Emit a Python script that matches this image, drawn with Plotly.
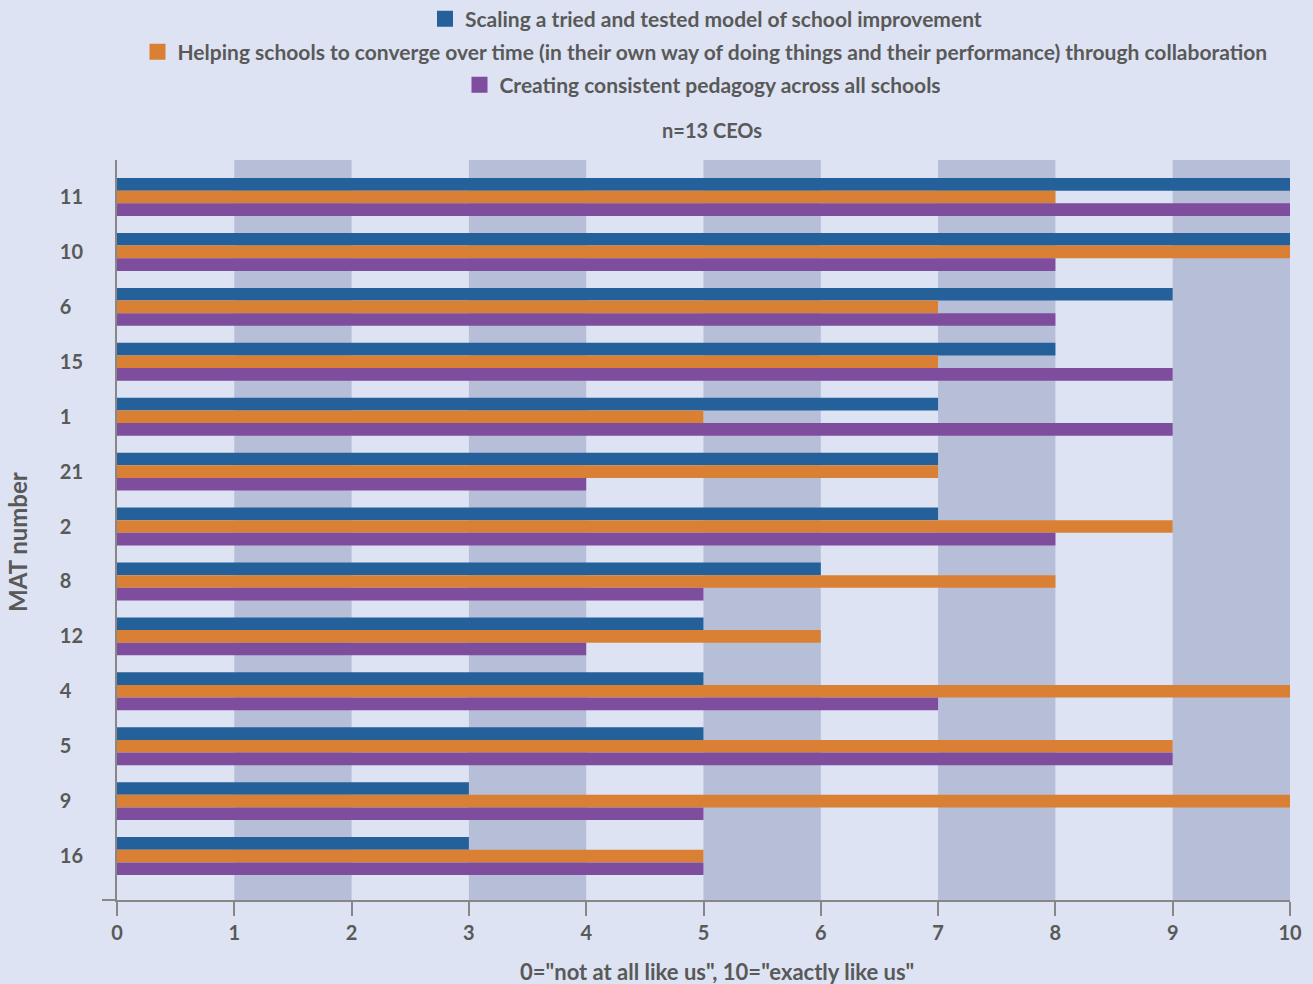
import plotly.graph_objects as go

mats = ["11", "10", "6", "15", "1", "21", "2", "8", "12", "4", "5", "9", "16"]
scaling = [10, 10, 9, 8, 7, 7, 7, 6, 5, 5, 5, 3, 3]
converge = [8, 10, 7, 7, 5, 7, 9, 8, 6, 10, 9, 10, 5]
pedagogy = [10, 8, 8, 9, 9, 4, 8, 5, 4, 7, 9, 5, 5]

series_names = [
    "Scaling a tried and tested model of school improvement",
    "Helping schools to converge over time (in their own way of doing things and their performance) through collaboration",
    "Creating consistent pedagogy across all schools",
]
colors = ["#24609A", "#DA8034", "#7F4D9D"]
x_ticks = list(range(0, 11))
bands = [(1, 2), (3, 4), (5, 6), (7, 8), (9, 10)]

FONT = "Lato"
TXT = "#595959"

fig = go.Figure()
for name, vals, col in zip(series_names, [scaling, converge, pedagogy], colors):
    fig.add_trace(go.Bar(
        y=mats, x=vals, name=name, orientation="h",
        marker=dict(color=col, line=dict(width=0)),
        showlegend=False,
    ))
# legend entries (larger square swatches)
for name, col, lg in zip(series_names, colors, ["legend", "legend2", "legend3"]):
    fig.add_trace(go.Scatter(
        x=[None], y=[None], mode="markers", name=name,
        marker=dict(symbol="square", size=16, color=col, line=dict(width=0)),
        legend=lg, showlegend=True,
    ))

shapes = []
for a, b in bands:
    shapes.append(dict(type="rect", xref="x", yref="paper", x0=a, x1=b, y0=0, y1=1,
                       fillcolor="#B6BED8", line=dict(width=0), layer="below"))
# x axis line extension to the left
shapes.append(dict(type="line", xref="paper", yref="paper", x0=-0.0128, x1=0, y0=0, y1=0,
                   line=dict(color="#878787", width=2)))

W, H = 1313, 984
L, R, T, B = 117, 23, 160, 84
pw, ph = W - L - R, H - T - B

def px_x(x):
    return (x - L) / pw

def px_y(y):
    return (H - B - y) / ph

legend_common = dict(orientation="h", xanchor="center", yanchor="middle",
                     bgcolor="rgba(0,0,0,0)", font=dict(family=FONT, size=21, color=TXT, weight="bold"),
                     itemclick=False, itemdoubleclick=False, itemwidth=30, itemsizing="trace")

ticktext = [m if len(m) == 2 else m + "\u2007" for m in mats]

def label(text, xp, yp, size, angle=0):
    return dict(text=text, x=px_x(xp), y=px_y(yp), xref="paper", yref="paper",
                showarrow=False, textangle=angle,
                font=dict(family=FONT, size=size, color=TXT, weight="bold"),
                xanchor="center", yanchor="middle")

fig.update_layout(
    width=W, height=H,
    margin=dict(l=L, r=R, t=T, b=B, pad=0, autoexpand=False),
    paper_bgcolor="#DDE3F2",
    plot_bgcolor="#DDE3F2",
    barmode="group", bargap=0.31, bargroupgap=0,
    shapes=shapes,
    showlegend=True,
    font=dict(family=FONT, color=TXT, weight="bold"),
    legend=dict(x=px_x(706), y=px_y(19), **legend_common),
    legend2=dict(x=px_x(705), y=px_y(52), **legend_common),
    legend3=dict(x=px_x(703), y=px_y(85), **legend_common),
    annotations=[
        label("n=13 CEOs", 712, 130, 20),
        label('0="not at all like us", 10="exactly like us"', 717, 971, 22),
        label("MAT number", 17, 542, 24, angle=-90),
    ],
    xaxis=dict(range=[0, 10], tickvals=x_ticks, showgrid=False, zeroline=False,
               showline=True, linecolor="#878787", linewidth=2, automargin=False,
               ticks="outside", ticklen=14, tickwidth=2, tickcolor="#878787",
               tickfont=dict(family=FONT, size=20, color=TXT, weight="bold")),
    yaxis=dict(categoryorder="array", categoryarray=mats, range=[12.80, -0.674],
               tickvals=mats, ticktext=ticktext, automargin=False,
               showgrid=False, zeroline=False, showline=True, linecolor="#878787", linewidth=2,
               ticks="", ticklabelstandoff=28,
               tickfont=dict(family=FONT, size=20, color=TXT, weight="bold")),
)

fig.write_html("out.html")
